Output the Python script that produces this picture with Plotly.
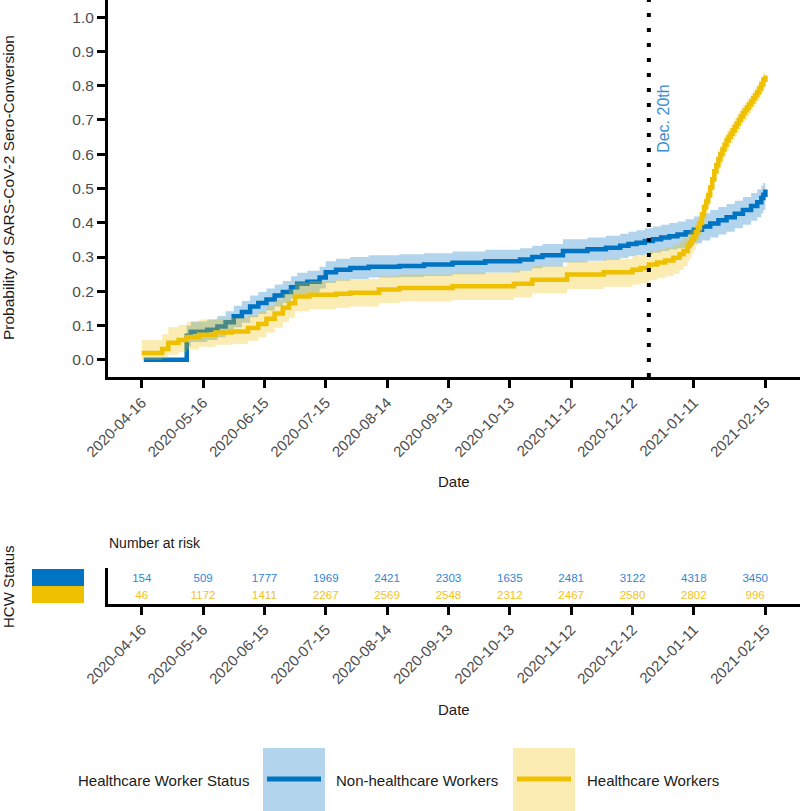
import plotly.graph_objects as go

# ---------------- data ----------------
NHCW_DATES = ["2020-04-17", "2020-05-08", "2020-05-10", "2020-05-18", "2020-05-23", "2020-05-27",
              "2020-05-31", "2020-06-04", "2020-06-08", "2020-06-12", "2020-06-16", "2020-06-20",
              "2020-06-24", "2020-06-28", "2020-07-01", "2020-07-06", "2020-07-12", "2020-07-15",
              "2020-07-20", "2020-07-27", "2020-08-05", "2020-08-20", "2020-09-01", "2020-09-15",
              "2020-10-01", "2020-10-18", "2020-10-24", "2020-10-29", "2020-11-08", "2020-11-20",
              "2020-11-29", "2020-12-06", "2020-12-10", "2020-12-14", "2020-12-18", "2020-12-22",
              "2020-12-26", "2020-12-30", "2021-01-03", "2021-01-07", "2021-01-11", "2021-01-15",
              "2021-01-19", "2021-01-23", "2021-01-27", "2021-01-31", "2021-02-04", "2021-02-08",
              "2021-02-11", "2021-02-13", "2021-02-14", "2021-02-15"]
NHCW_PROB = [0.000, 0.070, 0.082, 0.088, 0.097, 0.110, 0.127, 0.140, 0.156, 0.166, 0.176, 0.188,
             0.198, 0.212, 0.222, 0.228, 0.240, 0.256, 0.263, 0.268, 0.272, 0.274, 0.278, 0.283,
             0.288, 0.293, 0.300, 0.305, 0.318, 0.323, 0.327, 0.333, 0.338, 0.342, 0.347, 0.352,
             0.357, 0.361, 0.366, 0.372, 0.380, 0.389, 0.398, 0.407, 0.416, 0.426, 0.437, 0.449,
             0.460, 0.472, 0.482, 0.497]
NHCW_LOWER = [0.000, 0.040, 0.052, 0.058, 0.066, 0.078, 0.095, 0.108, 0.124, 0.134, 0.144, 0.156,
              0.166, 0.180, 0.190, 0.196, 0.208, 0.224, 0.231, 0.236, 0.240, 0.242, 0.245, 0.250,
              0.255, 0.260, 0.267, 0.272, 0.284, 0.289, 0.292, 0.297, 0.302, 0.305, 0.309, 0.313,
              0.318, 0.322, 0.326, 0.332, 0.340, 0.348, 0.357, 0.366, 0.374, 0.384, 0.394, 0.406,
              0.416, 0.428, 0.437, 0.450]
NHCW_UPPER = [0.000, 0.100, 0.112, 0.118, 0.128, 0.142, 0.158, 0.172, 0.188, 0.198, 0.208, 0.220,
              0.230, 0.244, 0.254, 0.260, 0.272, 0.288, 0.295, 0.300, 0.305, 0.308, 0.311, 0.316,
              0.321, 0.326, 0.333, 0.338, 0.352, 0.357, 0.362, 0.368, 0.374, 0.378, 0.384, 0.389,
              0.394, 0.399, 0.404, 0.410, 0.418, 0.428, 0.437, 0.446, 0.455, 0.464, 0.475, 0.487,
              0.498, 0.508, 0.516, 0.530]

HCW_DATES = ["2020-04-16", "2020-04-26", "2020-04-29", "2020-05-04", "2020-05-08", "2020-05-14",
             "2020-05-22", "2020-05-30", "2020-06-07", "2020-06-12", "2020-06-16", "2020-06-20",
             "2020-06-24", "2020-06-27", "2020-06-30", "2020-07-07", "2020-07-20", "2020-07-27",
             "2020-08-10", "2020-08-20", "2020-09-15", "2020-10-15", "2020-10-24", "2020-11-10",
             "2020-11-28", "2020-12-12", "2020-12-16", "2020-12-20", "2020-12-24", "2020-12-28",
             "2021-01-01", "2021-01-04", "2021-01-06", "2021-01-08", "2021-01-09", "2021-01-10",
             "2021-01-11", "2021-01-12", "2021-01-13", "2021-01-14", "2021-01-15", "2021-01-16",
             "2021-01-17", "2021-01-18", "2021-01-19", "2021-01-20", "2021-01-21", "2021-01-22",
             "2021-01-23", "2021-01-24", "2021-01-25", "2021-01-26", "2021-01-27", "2021-01-28",
             "2021-01-29", "2021-01-30", "2021-01-31", "2021-02-01", "2021-02-02", "2021-02-03",
             "2021-02-04", "2021-02-05", "2021-02-06", "2021-02-07", "2021-02-08", "2021-02-09",
             "2021-02-10", "2021-02-11", "2021-02-12", "2021-02-13", "2021-02-14", "2021-02-15"]
HCW_PROB = [0.020, 0.032, 0.050, 0.058, 0.067, 0.073, 0.080, 0.083, 0.093, 0.105, 0.120, 0.135,
            0.152, 0.165, 0.185, 0.190, 0.193, 0.196, 0.205, 0.210, 0.215, 0.222, 0.234, 0.249,
            0.256, 0.263, 0.268, 0.278, 0.284, 0.290, 0.298, 0.308, 0.318, 0.332, 0.342, 0.350,
            0.360, 0.372, 0.385, 0.400, 0.425, 0.445, 0.462, 0.480, 0.503, 0.527, 0.550, 0.568,
            0.585, 0.600, 0.614, 0.627, 0.640, 0.650, 0.660, 0.670, 0.680, 0.690, 0.700, 0.710,
            0.720, 0.728, 0.736, 0.745, 0.754, 0.763, 0.772, 0.781, 0.792, 0.804, 0.817, 0.830]
HCW_LOWER = [0.000, 0.005, 0.015, 0.022, 0.030, 0.038, 0.044, 0.047, 0.056, 0.066, 0.080, 0.094,
             0.110, 0.122, 0.142, 0.148, 0.152, 0.156, 0.166, 0.170, 0.175, 0.182, 0.194, 0.207,
             0.213, 0.220, 0.224, 0.232, 0.238, 0.244, 0.251, 0.262, 0.273, 0.288, 0.299, 0.310,
             0.321, 0.334, 0.348, 0.364, 0.390, 0.411, 0.429, 0.448, 0.471, 0.496, 0.519, 0.538,
             0.555, 0.570, 0.585, 0.598, 0.611, 0.622, 0.632, 0.642, 0.652, 0.663, 0.673, 0.683,
             0.694, 0.702, 0.710, 0.719, 0.728, 0.738, 0.747, 0.756, 0.767, 0.779, 0.792, 0.805]
HCW_UPPER = [0.058, 0.075, 0.095, 0.102, 0.110, 0.118, 0.120, 0.122, 0.130, 0.142, 0.158, 0.174,
             0.192, 0.206, 0.226, 0.230, 0.233, 0.236, 0.244, 0.249, 0.254, 0.261, 0.273, 0.288,
             0.295, 0.302, 0.307, 0.316, 0.322, 0.328, 0.336, 0.345, 0.355, 0.368, 0.377, 0.382,
             0.392, 0.404, 0.416, 0.431, 0.455, 0.475, 0.492, 0.509, 0.532, 0.555, 0.578, 0.595,
             0.612, 0.627, 0.640, 0.653, 0.666, 0.676, 0.686, 0.695, 0.705, 0.715, 0.724, 0.734,
             0.744, 0.752, 0.760, 0.768, 0.777, 0.786, 0.795, 0.804, 0.815, 0.827, 0.839, 0.852]

TICK_DATES = ["2020-04-16", "2020-05-16", "2020-06-15", "2020-07-15", "2020-08-14", "2020-09-13",
              "2020-10-13", "2020-11-12", "2020-12-12", "2021-01-11", "2021-02-15"]
Y_TICKS = [0.0, 0.1, 0.2, 0.3, 0.4, 0.5, 0.6, 0.7, 0.8, 0.9, 1.0]
Y_TICK_TEXT = ["0.0", "0.1", "0.2", "0.3", "0.4", "0.5", "0.6", "0.7", "0.8", "0.9", "1.0"]

RISK_DATES = ["2020-04-16", "2020-05-16", "2020-06-15", "2020-07-15", "2020-08-14", "2020-09-13",
              "2020-10-13", "2020-11-12", "2020-12-12", "2021-01-11", "2021-02-10"]
RISK_NHCW = [154, 509, 1777, 1969, 2421, 2303, 1635, 2481, 3122, 4318, 3450]
RISK_HCW = [46, 1172, 1411, 2267, 2569, 2548, 2312, 2467, 2580, 2802, 996]

VLINE_DATE = "2020-12-20"
VLINE_LABEL = "Dec. 20th"

GROUP_NAMES = ["Non-healthcare Workers", "Healthcare Workers"]
LEGEND_TITLE = "Healthcare Worker Status"

# ---------------- styling ----------------
BLUE = "#0073C2"
YELLOW = "#EFC000"
BLUE_FILL = "rgba(0,115,194,0.3)"
YELLOW_FILL = "rgba(239,192,0,0.3)"
FONT = "Liberation Sans, Arial, sans-serif"
W, H = 800, 811


def px_x(p):
    return p / W


def px_y(p):
    return 1 - p / H


fig = go.Figure()

groups = [
    (NHCW_DATES, NHCW_PROB, NHCW_LOWER, NHCW_UPPER, BLUE, BLUE_FILL),
    (HCW_DATES, HCW_PROB, HCW_LOWER, HCW_UPPER, YELLOW, YELLOW_FILL),
]
for dates, prob, lo, up, col, fcol in groups:
    fig.add_trace(go.Scatter(x=dates, y=lo, mode="lines", line=dict(width=0, shape="hv"),
                             hoverinfo="skip", xaxis="x", yaxis="y"))
    fig.add_trace(go.Scatter(x=dates, y=up, mode="lines", line=dict(width=0, shape="hv"),
                             fill="tonexty", fillcolor=fcol, hoverinfo="skip", xaxis="x", yaxis="y"))
    fig.add_trace(go.Scatter(x=dates, y=prob, mode="lines", line=dict(color=col, width=4.5, shape="hv"),
                             xaxis="x", yaxis="y"))

# risk table
fig.add_trace(go.Scatter(x=RISK_DATES, y=[2] * len(RISK_DATES), mode="text",
                         text=[str(v) for v in RISK_NHCW],
                         textfont=dict(family=FONT, size=11.5, color="#2F86D6"),
                         xaxis="x2", yaxis="y2"))
fig.add_trace(go.Scatter(x=RISK_DATES, y=[1] * len(RISK_DATES), mode="text",
                         text=[str(v) for v in RISK_HCW],
                         textfont=dict(family=FONT, size=11.5, color="#F2C21A"),
                         xaxis="x2", yaxis="y2"))

X_RANGE = ["2020-03-30 12:00", "2021-03-03 22:00"]
axis_common = dict(showline=True, linecolor="black", linewidth=3, ticks="outside", ticklen=8,
                   tickwidth=3, tickcolor="black", showgrid=False, zeroline=False, automargin=False)

fig.update_layout(
    width=W, height=H, margin=dict(l=0, r=0, t=0, b=0, autoexpand=False),
    paper_bgcolor="white", plot_bgcolor="white", showlegend=False,
    font=dict(family=FONT),
    xaxis=dict(domain=[px_x(108), 1], range=X_RANGE, anchor="y", type="date",
               tickvals=TICK_DATES, ticktext=TICK_DATES, tickangle=-45,
               tickfont=dict(size=15, color="#4D4D4D", family=FONT), **axis_common),
    yaxis=dict(domain=[px_y(377), 1], range=[-0.05, 1.05], anchor="x",
               tickvals=Y_TICKS, ticktext=Y_TICK_TEXT,
               tickfont=dict(size=15.5, color="#4D4D4D", family=FONT), **axis_common),
    xaxis2=dict(domain=[px_x(108), 1], range=X_RANGE, anchor="y2", type="date",
                tickvals=TICK_DATES, ticktext=TICK_DATES, tickangle=-45,
                tickfont=dict(size=15, color="#4D4D4D", family=FONT), **axis_common),
    yaxis2=dict(domain=[px_y(604), px_y(568)], range=[0.53, 2.65], anchor="x2",
                showline=True, linecolor="black", linewidth=3, ticks="", showticklabels=False,
                showgrid=False, zeroline=False, automargin=False),
)

shapes = [
    dict(type="line", xref="x", yref="y domain", x0=VLINE_DATE, x1=VLINE_DATE, y0=0, y1=1,
         line=dict(color="black", width=4, dash="4px,11px"), layer="above"),
    # risk table strata keys
    dict(type="rect", xref="paper", yref="paper", x0=px_x(32), x1=px_x(84), y0=px_y(586), y1=px_y(569),
         fillcolor=BLUE, line=dict(width=0)),
    dict(type="rect", xref="paper", yref="paper", x0=px_x(32), x1=px_x(84), y0=px_y(603), y1=px_y(586),
         fillcolor=YELLOW, line=dict(width=0)),
    # bottom legend keys
    dict(type="rect", xref="paper", yref="paper", x0=px_x(263), x1=px_x(325), y0=-0.01, y1=px_y(748),
         fillcolor=BLUE_FILL, line=dict(width=0)),
    dict(type="line", xref="paper", yref="paper", x0=px_x(267), x1=px_x(321), y0=px_y(779), y1=px_y(779),
         line=dict(color=BLUE, width=5)),
    dict(type="rect", xref="paper", yref="paper", x0=px_x(513), x1=px_x(575), y0=-0.01, y1=px_y(748),
         fillcolor=YELLOW_FILL, line=dict(width=0)),
    dict(type="line", xref="paper", yref="paper", x0=px_x(517), x1=px_x(571), y0=px_y(779), y1=px_y(779),
         line=dict(color=YELLOW, width=5)),
]

ann = [
    dict(text="Probability of SARS-CoV-2 Sero-Conversion", xref="paper", yref="paper",
         x=px_x(8), y=px_y(188), textangle=-90, showarrow=False,
         font=dict(size=15.5, color="#1A1A1A"), xanchor="center", yanchor="middle"),
    dict(text="Date", xref="paper", yref="paper", x=px_x(454), y=px_y(481), showarrow=False,
         font=dict(size=15, color="#1A1A1A"), xanchor="center", yanchor="middle"),
    dict(text="Number at risk", xref="paper", yref="paper", x=px_x(107), y=px_y(543), showarrow=False,
         font=dict(size=14, color="#1A1A1A"), xanchor="left", yanchor="middle"),
    dict(text="HCW Status", xref="paper", yref="paper", x=px_x(8), y=px_y(587), textangle=-90,
         showarrow=False, font=dict(size=15, color="#1A1A1A"), xanchor="center", yanchor="middle"),
    dict(text="Date", xref="paper", yref="paper", x=px_x(454), y=px_y(709), showarrow=False,
         font=dict(size=15, color="#1A1A1A"), xanchor="center", yanchor="middle"),
    dict(text=VLINE_LABEL, xref="x", yref="paper", x=VLINE_DATE, xshift=14, y=px_y(119), textangle=-90,
         showarrow=False, font=dict(size=16, color="#3A8DD3"), xanchor="center", yanchor="middle"),
    dict(text=LEGEND_TITLE, xref="paper", yref="paper", x=px_x(163), y=px_y(780), showarrow=False,
         font=dict(size=15, color="#1A1A1A"), xanchor="center", yanchor="middle"),
    dict(text=GROUP_NAMES[0], xref="paper", yref="paper", x=px_x(334), y=px_y(780), showarrow=False,
         font=dict(size=15, color="#1A1A1A"), xanchor="left", yanchor="middle"),
    dict(text=GROUP_NAMES[1], xref="paper", yref="paper", x=px_x(585), y=px_y(780), showarrow=False,
         font=dict(size=15, color="#1A1A1A"), xanchor="left", yanchor="middle"),
]
fig.update_layout(shapes=shapes, annotations=ann)

fig.write_html("out.html", config={"displayModeBar": False},
               post_script="document.body.style.margin='0';document.body.style.overflow='hidden';")
